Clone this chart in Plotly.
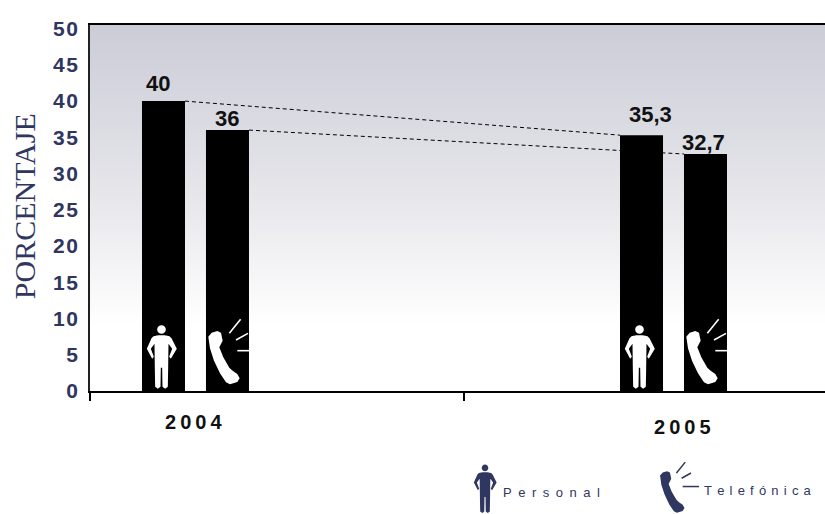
import math, base64
import plotly.graph_objects as go

years = ["2004", "2005"]
personal = [40, 35.3]
telefonica = [36, 32.7]
personal_labels = ["40", "35,3"]
telefonica_labels = ["36", "32,7"]
y_ticks = [0, 5, 10, 15, 20, 25, 30, 35, 40, 45, 50]

NAVY = "#2f3660"
HAIR = "\u200a"
THIN = "\u2009"
EN = "\u2002"
SANS = "Liberation Sans, Arial, sans-serif"

# layout positions (x axis unit = one major tick interval)
pos_personal = [0.1965, 1.4746]
pos_telefonica = [0.3676, 1.6457]
bar_w = 0.115
year_pos = [0.2754, 1.5829]
year_y = [-0.12, -0.135]

grad = ('<svg xmlns="http://www.w3.org/2000/svg" width="10" height="366" preserveAspectRatio="none">'
        '<defs><linearGradient id="g" x1="0" y1="0" x2="0" y2="1">'
        '<stop offset="0" stop-color="#cbccd7"/><stop offset="0.45" stop-color="#e5e5ea"/>'
        '<stop offset="0.82" stop-color="#ffffff"/><stop offset="1" stop-color="#ffffff"/>'
        '</linearGradient></defs><rect width="10" height="366" fill="url(#g)"/></svg>')
grad_uri = "data:image/svg+xml;base64," + base64.b64encode(grad.encode()).decode()

fig = go.Figure()

# dashed connecting lines
for vals, pos in ((personal, pos_personal), (telefonica, pos_telefonica)):
    fig.add_trace(go.Scatter(x=[pos[0] + bar_w / 2, pos[1] - bar_w / 2], y=vals, mode="lines",
                             line=dict(color="black", width=1, dash="4px,3px"),
                             showlegend=False, hoverinfo="skip"))

fig.add_trace(go.Bar(x=pos_personal, y=personal, width=bar_w, marker=dict(color="black", line_width=0),
                     name="Personal", showlegend=False))
fig.add_trace(go.Bar(x=pos_telefonica, y=telefonica, width=bar_w, marker=dict(color="black", line_width=0),
                     name="Telefónica", showlegend=False))


# icon outlines, drawn in a 3x design grid
def poly(pts, cx, gy, s):
    out = []
    for i, (a, b) in enumerate(pts):
        out.append(("M" if i == 0 else "L") + f"{(a - cx) / 3 * s:.2f},{(gy - b) / 3 * s:.2f}")
    return " ".join(out) + " Z"


def person_path(s):
    cx, gy = 94, 268
    head = [(94 + 13 * math.cos(t * math.pi / 8), 90 + 13 * math.sin(t * math.pi / 8)) for t in range(16)]
    body = [(84, 107), (104, 107), (118, 110), (124, 116), (140, 148), (122, 178), (117, 172), (126, 148),
            (115, 133), (114, 205), (113, 262), (105, 268), (97, 262), (96, 205), (92, 205), (91, 262),
            (83, 268), (75, 262), (74, 205), (73, 133), (62, 148), (71, 172), (66, 178), (50, 148),
            (64, 116), (70, 110)]
    return poly(head, cx, gy, s) + " " + poly(body, cx, gy, s)


def phone_path(s):
    cx, gy = 292.5, 273
    hs = [(235, 110), (245, 98), (262, 93), (273, 98), (278, 122), (268, 142), (280, 172), (298, 203),
          (308, 212), (322, 222), (329, 235), (322, 246), (300, 253), (288, 247), (270, 220), (252, 182),
          (240, 145)]
    return poly(hs, cx, gy, s)


def ray_paths(s, long_=1.0):
    cx, gy = 292.5, 273
    rays = [[(298, 100), (332, 58)], [(318, 120), (354, 100)], [(322, 152), (322 + 35 * long_, 152)]]
    return [" ".join(("M" if i == 0 else "L") + f"{(a - cx) / 3 * s:.2f},{(gy - b) / 3 * s:.2f}"
                     for i, (a, b) in enumerate(r)) for r in rays]


shapes = []


def add_icon(path, xa, ya, xref, yref, fill, line=None, lw=0):
    shapes.append(dict(type="path", path=path, xref=xref, yref=yref, xsizemode="pixel", ysizemode="pixel",
                       xanchor=xa, yanchor=ya, fillcolor=fill if line is None else "rgba(0,0,0,0)",
                       line=dict(color=line or fill, width=lw), layer="above"))


for x in pos_personal:
    add_icon(person_path(1), x - 2 / 374, 0.3, "x", "y", "white")
for x in pos_telefonica:
    add_icon(phone_path(1), x, 0, "x", "y", "white")
    for r in ray_paths(1):
        add_icon(r, x, 0, "x", "y", "white", "white", 1.6)

# legend icons
lx = lambda px: (px - 90) / 735
ly = lambda py: (391 - py) / 366
add_icon(person_path(0.76), lx(485), ly(513), "paper", "paper", NAVY)
add_icon(phone_path(0.78), lx(675), ly(518), "paper", "paper", NAVY)
for r in ray_paths(0.78, 1.8):
    add_icon(r, lx(675), ly(518), "paper", "paper", NAVY, NAVY, 1.5)

ann = []
# value labels
for x, v, t, xs, ys in zip(pos_personal + pos_telefonica, personal + telefonica,
                           personal_labels + telefonica_labels, [-5, 9, 0, -2], [6, 9, 0, 0]):
    ann.append(dict(x=x, y=v, text=t, showarrow=False, yanchor="bottom", xshift=xs, yshift=ys - 3,
                    font=dict(family=SANS, size=22, color="#111111", weight="bold")))
for y, x, py in zip(years, year_pos, year_y):
    ann.append(dict(x=x, y=py, xref="x", yref="paper", text=THIN.join(y), showarrow=False,
                    font=dict(family=SANS, size=20, color="#111111", weight="bold")))

ann.append(dict(x=-0.0898, y=0.505, xref="paper", yref="paper", text="PORCENTAJE", textangle=-90, showarrow=False,
                xanchor="center", yanchor="middle",
                font=dict(family="Liberation Serif, Times New Roman, serif", size=30, color=NAVY)))
ann.append(dict(x=lx(551), y=ly(492), xref="paper", yref="paper", xanchor="center", yanchor="middle",
                text=EN.join("Personal"), showarrow=False, font=dict(family=SANS, size=13, color=NAVY)))
ann.append(dict(x=lx(758), y=ly(490), xref="paper", yref="paper", xanchor="center", yanchor="middle",
                text=(THIN + THIN).join("Telefónica"), showarrow=False,
                font=dict(family=SANS, size=13, color=NAVY)))

fig.update_layout(
    width=825, height=514, autosize=False,
    margin=dict(l=90, r=0, t=25, b=123),
    paper_bgcolor="white", plot_bgcolor="rgba(0,0,0,0)",
    showlegend=False, shapes=shapes, annotations=ann,
    images=[dict(source=grad_uri, xref="paper", yref="paper", x=0, y=1, sizex=1, sizey=1,
                 sizing="stretch", layer="below", xanchor="left", yanchor="top")],
    xaxis=dict(range=[0, 735 / 374], tickvals=[0, 1, 2], ticktext=["", "", ""], ticks="outside", ticklen=8,
               tickcolor="black", tickwidth=1.5, showgrid=False, zeroline=False, showline=True,
               linecolor="black", linewidth=2.2, mirror=True),
    yaxis=dict(range=[0, 50.5], tickvals=y_ticks, ticktext=[HAIR.join(str(t)) for t in y_ticks],
               ticks="outside", ticklen=6, tickcolor="rgba(0,0,0,0)", showgrid=False, zeroline=False,
               showline=True, linecolor="#222222", linewidth=1.5,
               tickfont=dict(family=SANS, size=21, color=NAVY, weight="bold")),
)

fig.write_html("out.html", config=dict(displayModeBar=False),
               post_script="document.documentElement.style.overflow='hidden';document.body.style.margin='0';")
